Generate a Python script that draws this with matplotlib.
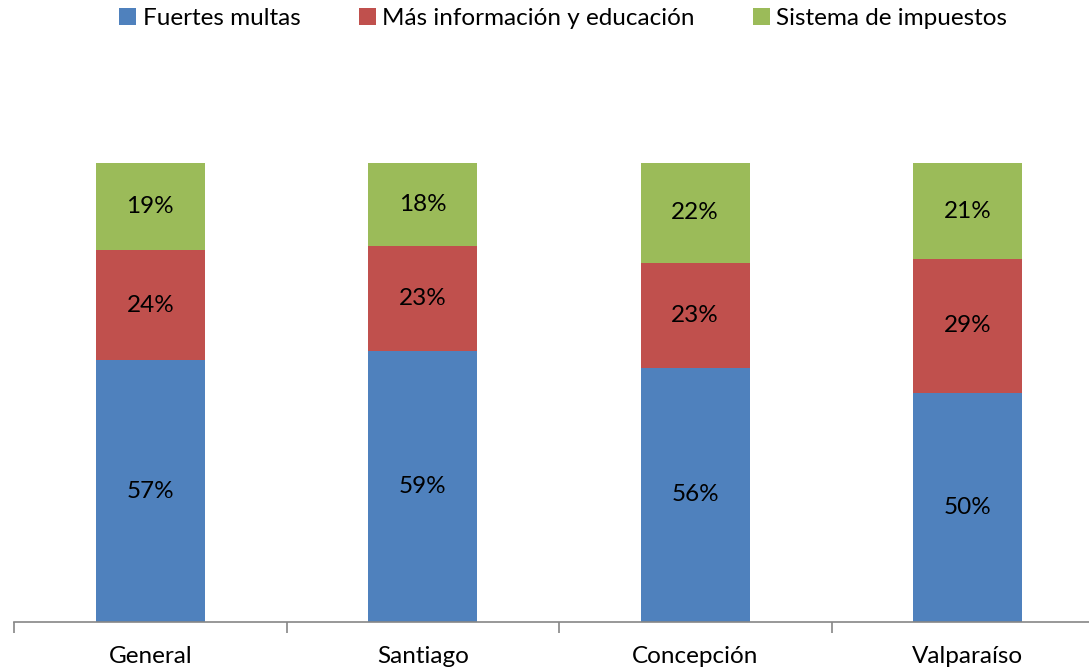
import numpy as np
import matplotlib.pyplot as plt
from matplotlib.patches import Patch

plt.rcParams['font.family'] = ['Lato', 'DejaVu Sans']

# Data
ciudades = ['General', 'Santiago', 'Concepción', 'Valparaíso']
multas = [57, 59, 56, 50]
educacion = [24, 23, 23, 29]
impuestos = [19, 18, 22, 21]

series = ['Fuertes multas', 'Más información y educación', 'Sistema de impuestos']
colores = ['#4F81BD', '#C0504D', '#9BBB59']

valores = np.array([multas, educacion, impuestos], dtype=float)
totales = valores.sum(axis=0)
alturas = valores / totales * 100   # 100% stacked

fig = plt.figure(figsize=(10.89, 6.69), dpi=100)
ax = fig.add_axes([14 / 1089, 47 / 669, 1090 / 1089, 459 / 669])

x = np.arange(len(ciudades))
base = np.zeros(len(ciudades))
for i in range(3):
    ax.bar(x, alturas[i], bottom=base, width=0.4, color=colores[i], edgecolor='none')
    for j in range(len(ciudades)):
        ax.text(x[j], base[j] + alturas[i][j] / 2, f'{int(valores[i][j])}%',
                ha='center', va='center', fontsize=17.5, color='black')
    base += alturas[i]

ax.set_xlim(-0.5, 3.5)
ax.set_ylim(0, 100)
for s in ['top', 'right', 'left']:
    ax.spines[s].set_visible(False)
ax.spines['bottom'].set_color('#868686')
ax.spines['bottom'].set_linewidth(1.2)
ax.set_yticks([])

ax.set_xticks(x)
ax.set_xticklabels(ciudades, fontsize=17.5)
ax.tick_params(axis='x', which='major', length=0, pad=17)
ax.set_xticks(np.arange(-0.5, 4, 1), minor=True)
ax.tick_params(axis='x', which='minor', length=8, width=1.2, color='#868686')

handles = [Patch(facecolor=c, edgecolor='none') for c in colores]
fig.legend(handles, series, loc='center', bbox_to_anchor=(0.517, 0.972), ncol=3,
           frameon=False, fontsize=17.5, handlelength=0.7, handleheight=0.7,
           handletextpad=0.25, columnspacing=2.4)

fig.savefig('out.png', dpi=100)
